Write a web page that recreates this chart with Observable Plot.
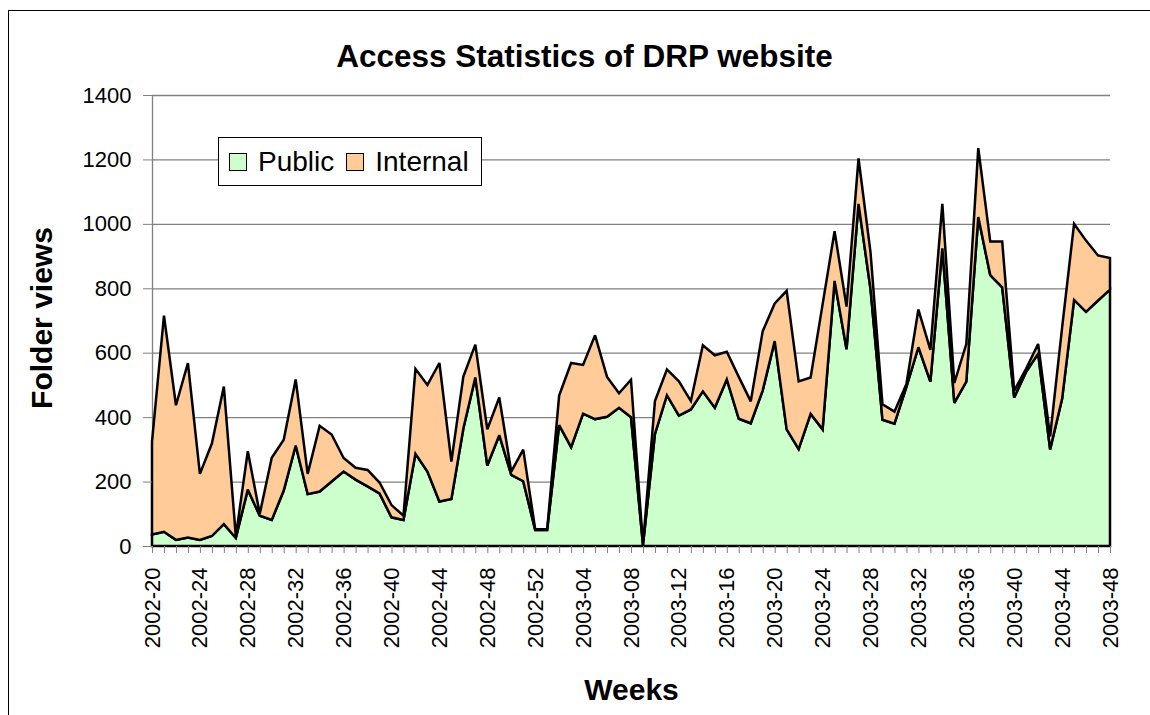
<!DOCTYPE html>
<html>
<head>
<meta charset="utf-8">
<script src="https://cdn.jsdelivr.net/npm/d3@7"></script>
<script src="https://cdn.jsdelivr.net/npm/@observablehq/plot@0.6"></script>
<style>
  html, body { margin: 0; padding: 0; background: #fff; overflow: hidden; }
  #wrap { position: relative; width: 1150px; height: 715px; font-family: "Liberation Sans", Arial, sans-serif; }
  #frame { position: absolute; left: 8px; top: 10px; width: 1200px; height: 800px; border: 1.5px solid #000; pointer-events: none; }
  #legend { position: absolute; left: 218px; top: 137px; width: 262px; height: 47px; border: 1px solid #000; background: #fff;
            display: flex; align-items: center; font-size: 28px; color: #000; }
  .sw { display: inline-block; width: 16px; height: 16px; border: 1.5px solid #000; margin-left: 10px; margin-right: 11px; }
  #ylab { position: absolute; left: -108px; top: 300px; width: 300px; height: 36px; line-height: 36px; text-align: center;
          font-size: 30px; font-weight: bold; color: #000; transform: rotate(-90deg); transform-origin: 150px 18px; }
</style>
</head>
<body>
<div id="wrap">
  <div id="frame"></div>
  <div id="chart"></div>
  <div id="legend"></div>
  <div id="ylab">Folder views</div>
</div>
<script>
const weeks = [
  "2002-20","2002-21","2002-22","2002-23","2002-24","2002-25","2002-26","2002-27","2002-28","2002-29",
  "2002-30","2002-31","2002-32","2002-33","2002-34","2002-35","2002-36","2002-37","2002-38","2002-39",
  "2002-40","2002-41","2002-42","2002-43","2002-44","2002-45","2002-46","2002-47","2002-48","2002-49",
  "2002-50","2002-51","2002-52","2003-01","2003-02","2003-03","2003-04","2003-05","2003-06","2003-07",
  "2003-08","2003-09","2003-10","2003-11","2003-12","2003-13","2003-14","2003-15","2003-16","2003-17",
  "2003-18","2003-19","2003-20","2003-21","2003-22","2003-23","2003-24","2003-25","2003-26","2003-27",
  "2003-28","2003-29","2003-30","2003-31","2003-32","2003-33","2003-34","2003-35","2003-36","2003-37",
  "2003-38","2003-39","2003-40","2003-41","2003-42","2003-43","2003-44","2003-45","2003-46","2003-47",
  "2003-48"
];
const publicViews = [
  36, 44, 19, 26, 19, 31, 68, 25, 175, 94,
  81, 172, 312, 161, 169, 200, 231, 206, 185, 163,
  89, 81, 286, 231, 138, 146, 365, 523, 250, 344,
  221, 201, 50, 50, 375, 307, 411, 394, 401, 429,
  400, 3, 348, 468, 405, 424, 480, 429, 517, 395,
  381, 483, 636, 362, 301, 410, 362, 823, 611, 1062,
  798, 392, 380, 494, 617, 510, 924, 444, 510, 1021,
  841, 803, 461, 541, 597, 300, 457, 764, 727, 762,
  796
];
const internalViews = [
  287, 671, 418, 542, 205, 287, 427, 5, 119, 6,
  193, 158, 205, 63, 204, 146, 42, 37, 51, 34,
  38, 13, 264, 269, 430, 116, 161, 102, 112, 117,
  10, 98, 2, 2, 92, 261, 151, 260, 124, 45,
  116, 2, 102, 80, 106, 26, 143, 163, 86, 130,
  68, 184, 117, 430, 210, 113, 388, 154, 132, 141,
  114, 48, 37, 9, 117, 99, 138, 62, 117, 214,
  104, 142, 21, 10, 30, 40, 221, 236, 221, 140,
  98
];
const seriesNames = ["Public", "Internal"];
const seriesColors = ["#CCFFCC", "#FFCC99"];
const xTickLabels = [
  "2002-20","2002-24","2002-28","2002-32","2002-36","2002-40","2002-44","2002-48","2002-52",
  "2003-04","2003-08","2003-12","2003-16","2003-20","2003-24","2003-28","2003-32","2003-36",
  "2003-40","2003-44","2003-48"
];
const yTicks = [0, 200, 400, 600, 800, 1000, 1200, 1400];

const rows = [
  ...weeks.map((w, i) => ({week: w, series: "Public", views: publicViews[i]})),
  ...weeks.map((w, i) => ({week: w, series: "Internal", views: internalViews[i]}))
];

const chart = Plot.plot({
  width: 1150,
  height: 715,
  marginLeft: 152,
  marginRight: 40,
  marginTop: 95,
  marginBottom: 169,
  style: {fontFamily: "'Liberation Sans', Arial, sans-serif", background: "transparent", color: "#000"},
  x: {type: "point", domain: weeks, padding: 0},
  y: {domain: [0, 1400]},
  color: {domain: seriesNames, range: seriesColors},
  marks: [
    Plot.gridY(yTicks.filter(d => d > 0), {stroke: "#808080", strokeOpacity: 1, strokeWidth: 1.3}),
    Plot.ruleX([weeks[0]], {stroke: "#808080", strokeWidth: 1.3}),
    Plot.areaY(rows, Plot.stackY({
      x: "week", y: "views", z: "series", fill: "series", order: seriesNames,
      stroke: "#000", strokeWidth: 2.5, strokeLinejoin: "miter", strokeMiterlimit: 3
    })),
    Plot.axisY(yTicks, {tickSize: 9, tickPadding: 12, fontSize: 22, stroke: "#808080", fill: "#000", label: null, tickFormat: d3.format("d")}),
    Plot.axisX(weeks, {tickSize: 7, tickFormat: () => "", stroke: "#808080", label: null}),
    Plot.axisX(xTickLabels, {tickSize: 0, tickPadding: 21, tickRotate: -90, fontSize: 22, fill: "#000", label: null}),
    Plot.text(["Access Statistics of DRP website"], {frameAnchor: "top", dx: -47, dy: -39, fontSize: 31.5, fontWeight: "bold", lineAnchor: "middle"}),
    Plot.text(["Weeks"], {frameAnchor: "bottom", dy: 144, fontSize: 30, fontWeight: "bold", lineAnchor: "middle"})
  ]
});
document.getElementById("chart").appendChild(chart);

const legend = document.getElementById("legend");
seriesNames.forEach((name, i) => {
  const sw = document.createElement("span");
  sw.className = "sw";
  if (i > 0) sw.style.marginLeft = "12px";
  sw.style.background = seriesColors[i];
  legend.appendChild(sw);
  const t = document.createElement("span");
  t.textContent = name;
  legend.appendChild(t);
});
</script>
</body>
</html>
